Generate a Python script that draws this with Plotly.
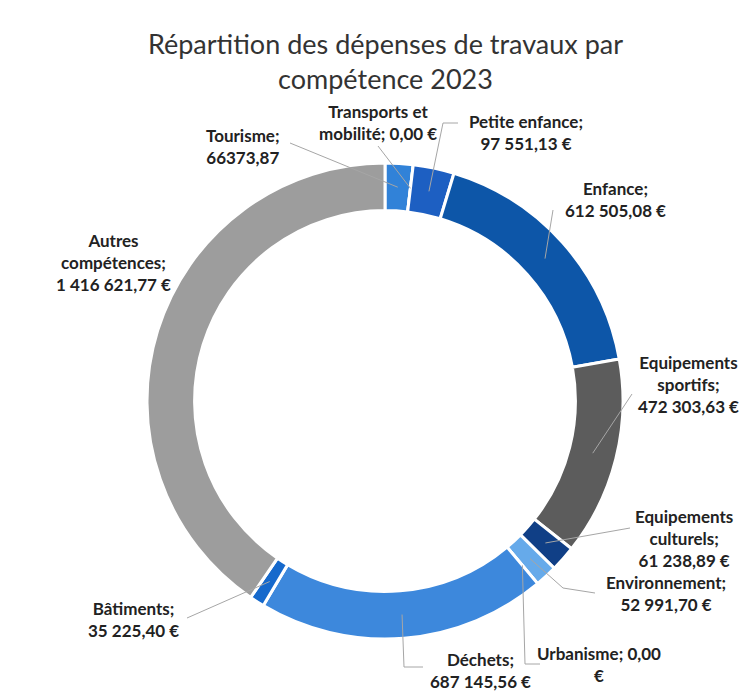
import math
import plotly.graph_objects as go

# ---- data ----
categories = ["Tourisme", "Transports et mobilité", "Petite enfance", "Enfance",
              "Equipements sportifs", "Equipements culturels", "Environnement",
              "Urbanisme", "Déchets", "Bâtiments", "Autres compétences"]
values = [66373.87, 0.00, 97551.13, 612505.08, 472303.63, 61238.89, 52991.70,
          0.00, 687145.56, 35225.40, 1416621.77]
label_texts = ["Tourisme;<br>66373,87",
               "Transports et<br>mobilité; 0,00 €",
               "Petite enfance;<br>97 551,13 €",
               "Enfance;<br>612 505,08 €",
               "Equipements<br>sportifs;<br>472 303,63 €",
               "Equipements<br>culturels;<br>61 238,89 €",
               "Environnement;<br>52 991,70 €",
               "Urbanisme; 0,00<br>€",
               "Déchets;<br>687 145,56 €",
               "Bâtiments;<br>35 225,40 €",
               "Autres<br>compétences;<br>1 416 621,77 €"]
colors = ["#3182d8", "#2a78d6", "#1d5fc2", "#0d56a8", "#5c5c5c", "#103f86",
          "#66aaea", "#66aaea", "#3d88dc", "#1669cc", "#9d9d9d"]

# ---- layout geometry (screen pixels) ----
W, H = 747, 697
OFF = 8  # page body margin
CX, CY, R = 385, 401, 238
HOLE = 0.80

label_pos = [(243, 146), (378, 122), (526, 133), (615, 199), (688, 384),
             (684, 538), (666, 593), (599, 664), (480, 670), (134, 619), (114, 262)]
line_start = [(290, 143), (378, 146), (458, 123), (553, 210), (632, 394),
              (630, 528), (595, 593), (540, 664), (423, 667), (187, 618), None]
line_mid = [None, None, (443, 123), None, None, None, (563, 588), (525, 664), (404, 667), None, None]

total = sum(values)

def px(x):
    return (x - OFF) / W

def py(y):
    return 1 - (y - OFF) / H

fig = go.Figure(go.Pie(
    labels=categories, values=values, sort=False, direction="clockwise",
    rotation=0, hole=HOLE, marker=dict(colors=colors, line=dict(color="white", width=3)),
    textinfo="none", hoverinfo="label+value", showlegend=False,
    domain=dict(x=[px(CX - R), px(CX + R)], y=[py(CY + R), py(CY - R)]),
))

shapes = []
annotations = []
cum = 0.0
rmid = R * (1 + HOLE) / 2
for i, v in enumerate(values):
    frac_mid = (cum + v / 2) / total
    cum += v
    ang = 2 * math.pi * frac_mid
    tx = CX + rmid * math.sin(ang)
    ty = CY - rmid * math.cos(ang)
    if line_start[i] is not None:
        pts = [line_start[i]]
        if line_mid[i] is not None:
            pts.append(line_mid[i])
        pts.append((tx, ty))
        for a, b in zip(pts[:-1], pts[1:]):
            shapes.append(dict(type="line", xref="paper", yref="paper",
                               x0=px(a[0]), y0=py(a[1]), x1=px(b[0]), y1=py(b[1]),
                               line=dict(color="#a6a6a6", width=1)))
    lx, ly = label_pos[i]
    annotations.append(dict(text="<b>" + label_texts[i] + "</b>", x=px(lx), y=py(ly),
                            xref="paper", yref="paper", showarrow=False,
                            xanchor="center", yanchor="middle", align="center",
                            font=dict(family="Lato", size=17, color="#222222")))

fig.update_layout(
    width=W, height=H, margin=dict(l=0, r=0, t=0, b=0),
    paper_bgcolor="white", plot_bgcolor="white",
    title=dict(text="Répartition des dépenses de travaux par<br>compétence 2023",
               x=377.5 / W, xanchor="center", y=1 - 46 / H, yanchor="middle",
               font=dict(family="Lato", size=27, color="#333333")),
    shapes=shapes, annotations=annotations,
)

fig.write_html("out.html")
